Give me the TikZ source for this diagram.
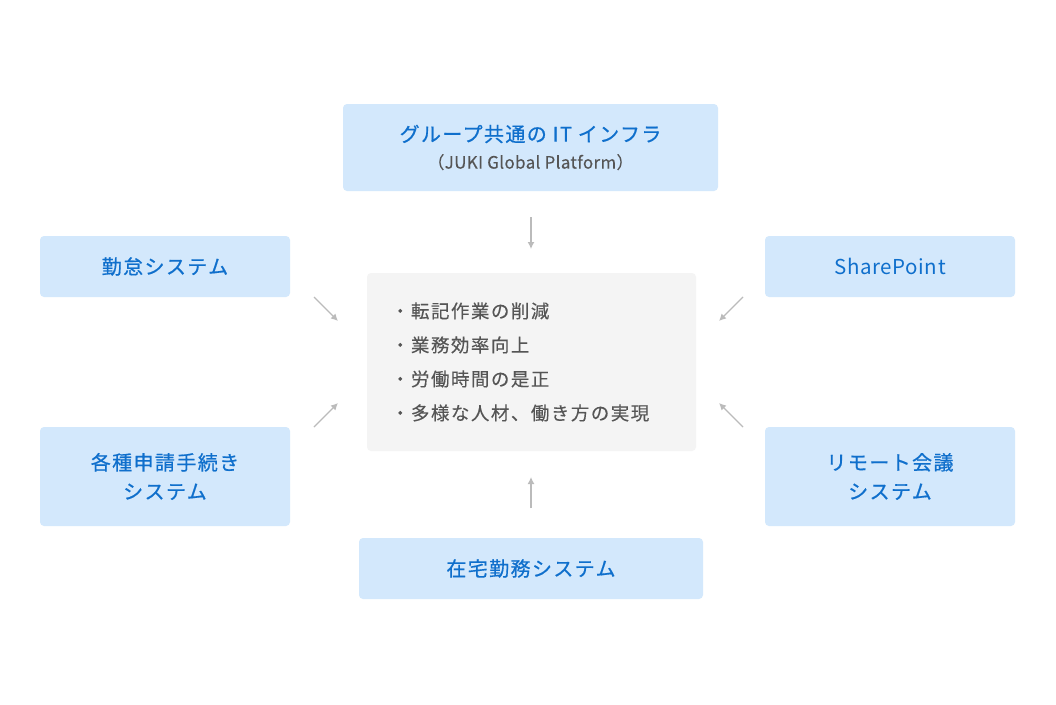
\documentclass[tikz,border=0pt]{standalone}
\usepackage{fontspec}
\newfontfamily\jpfont{Noto Sans CJK JP}
\usetikzlibrary{arrows.meta}
\definecolor{boxblue}{HTML}{D3E8FC}
\definecolor{textblue}{HTML}{0F6FCC}
\definecolor{textgray}{HTML}{555555}
\definecolor{panelgray}{HTML}{F4F4F4}
\definecolor{arrowgray}{HTML}{BBBBBB}
\tikzset{
  sysbox/.style={fill=boxblue, rounded corners=4pt, align=center, inner sep=0pt,
    text=textblue, font=\jpfont\fontsize{20}{29}\selectfont\addfontfeature{LetterSpace=7,FakeBold=0.7}},
  inflow/.style={draw=arrowgray, line width=1.3pt, -{Latex[length=7pt,width=7pt]}}
}
\begin{document}
\begin{tikzpicture}[x=1pt,y=-1pt]
  \fill[white] (0,0) rectangle (1056,704);
  % systems around the centre
  \node[sysbox, minimum width=375pt, minimum height=87pt] (infra) at (530.5,147.5)
    {グループ共通の IT インフラ\\[-2pt]
     {\color{textgray}\fontsize{17}{20}\selectfont\addfontfeature{LetterSpace=2,FakeBold=0.1}（JUKI Global Platform）}};
  \node[sysbox, minimum width=250pt, minimum height=61pt] (kintai) at (165,266.5) {勤怠システム};
  \node[sysbox, minimum width=250pt, minimum height=99pt] (shinsei) at (165,476.5) {各種申請手続き\\システム};
  \node[sysbox, minimum width=250pt, minimum height=61pt,
    font=\jpfont\fontsize{20.5}{29}\selectfont\addfontfeature{LetterSpace=3}] (sharept) at (890,266.5) {SharePoint};
  \node[sysbox, minimum width=250pt, minimum height=99pt] (remote) at (890,476.5) {リモート会議\\システム};
  \node[sysbox, minimum width=344pt, minimum height=61pt] (zaitaku) at (531,568.5) {在宅勤務システム};
  % merits
  \node[fill=panelgray, rounded corners=4pt, minimum height=178pt, inner xsep=24pt, inner ysep=0pt,
    text width=281pt, align=left, text=textgray,
    font=\jpfont\fontsize{18.5}{34}\selectfont\addfontfeature{LetterSpace=8,FakeBold=0.2}] (merits) at (531.5,362)
    {・転記作業の削減\\・業務効率向上\\・労働時間の是正\\・多様な人材、働き方の実現};
  % arrow ends
  \path (531,217) coordinate (t1) (531,249) coordinate (t2)
        (531,508) coordinate (b1) (531,477) coordinate (b2)
        (314,297) coordinate (lt1) (338,321) coordinate (lt2)
        (314,427) coordinate (lb1) (338,403) coordinate (lb2)
        (743,297) coordinate (rt1) (719,321) coordinate (rt2)
        (743,427) coordinate (rb1) (719,403) coordinate (rb2);
  \foreach \a in {t,b,lt,lb,rt,rb}{
    \draw[inflow] (\a1) -- (\a2);
  }
\end{tikzpicture}
\end{document}
